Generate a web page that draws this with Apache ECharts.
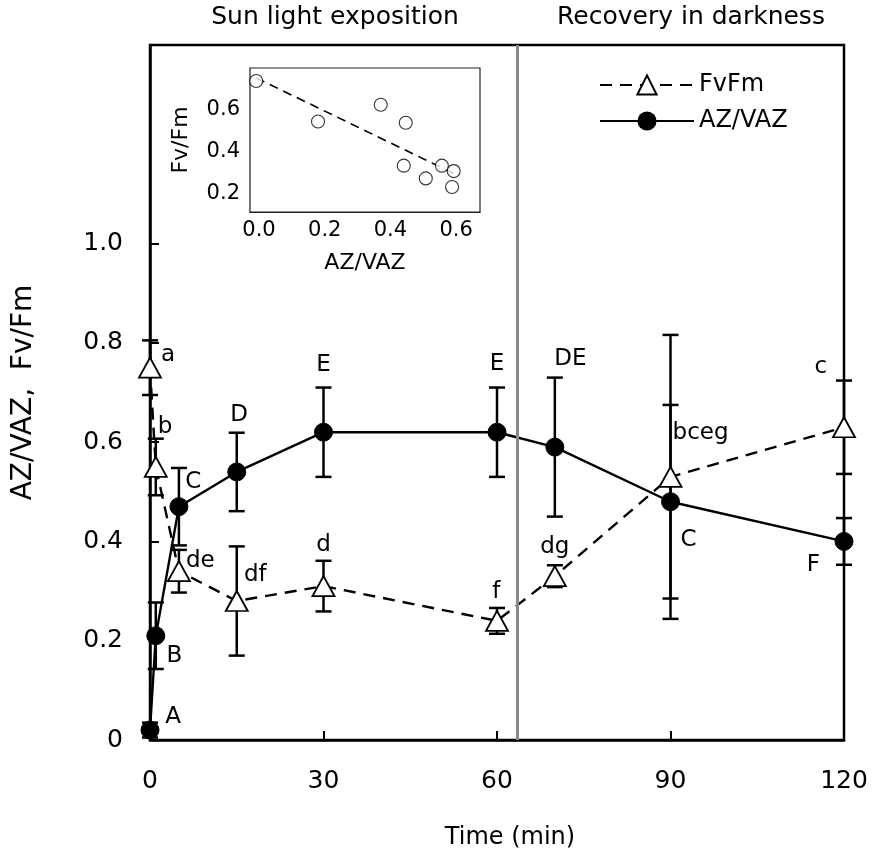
<!DOCTYPE html>
<html>
<head>
<meta charset="utf-8">
<script src="https://cdn.jsdelivr.net/npm/echarts@6/dist/echarts.min.js"></script>
<style>
  html, body { margin: 0; padding: 0; background: #fff; }
  #chart { width: 873px; height: 860px; }
</style>
</head>
<body>
<div id="chart"></div>
<script>
// main time course
const timeMin = [0, 1, 5, 15, 30, 60, 70, 90, 120];
const azVaz = [0.02, 0.21, 0.47, 0.54, 0.62, 0.62, 0.59, 0.48, 0.40];
const azVazErr = [0.015, 0.067, 0.078, 0.079, 0.09, 0.09, 0.14, 0.195, 0.047];
const fvFm = [0.75, 0.55, 0.34, 0.28, 0.31, 0.24, 0.33, 0.53, 0.63];
const fvFmErr = [0.055, 0.057, 0.043, 0.11, 0.051, 0.026, 0.022, 0.286, 0.094];

// significance letters, anchored in data units
const letterText = ['A', 'B', 'C', 'D', 'E', 'E', 'DE', 'C', 'F',
                    'a', 'b', 'de', 'df', 'd', 'f', 'dg', 'bceg', 'c'];
const letterTime = [4.0, 4.2, 7.5, 15.4, 30, 60, 72.7, 93.1, 114.7,
                    3.1, 2.6, 8.7, 18.2, 30, 59.9, 70, 95.2, 116];
const letterValue = [0.046, 0.169, 0.52, 0.655, 0.756, 0.758, 0.768, 0.403, 0.353,
                     0.776, 0.631, 0.361, 0.333, 0.393, 0.298, 0.389, 0.619, 0.752];

// light -> darkness switch
const darkStart = 63.5;

// inset scatter
const insetAz = [0.019, 0.207, 0.398, 0.474, 0.468, 0.535, 0.584, 0.620, 0.615];
const insetFv = [0.738, 0.544, 0.624, 0.538, 0.332, 0.271, 0.332, 0.306, 0.230];

const mainTicksY = [0, 0.2, 0.4, 0.6, 0.8, 1.0];
const insetTicksX = [0, 0.2, 0.4, 0.6];
const insetTicksY = [0.2, 0.4, 0.6];

const FONT = 'DejaVu Sans';

// least squares trend for the inset
const n = insetAz.length;
const mx = insetAz.reduce((a, b) => a + b, 0) / n;
const my = insetFv.reduce((a, b) => a + b, 0) / n;
let sxy = 0, sxx = 0;
for (let i = 0; i < n; i++) {
  sxy += (insetAz[i] - mx) * (insetFv[i] - my);
  sxx += (insetAz[i] - mx) * (insetAz[i] - mx);
}
const slope = sxy / sxx;
const icpt = my - slope * mx;
const xLo = Math.min(...insetAz), xHi = Math.max(...insetAz);
const trend = [[xLo, icpt + slope * xLo], [xHi, icpt + slope * xHi]];

function errData(vals, errs) {
  return timeMin.map((t, i) => [t, vals[i] - errs[i], vals[i] + errs[i]]);
}

function renderErr(params, api) {
  const lo = api.coord([api.value(0), api.value(1)]);
  const hi = api.coord([api.value(0), api.value(2)]);
  const w = 8;
  const style = { stroke: '#000', lineWidth: 2.5 };
  return {
    type: 'group',
    children: [
      { type: 'line', shape: { x1: lo[0], y1: lo[1], x2: hi[0], y2: hi[1] }, style },
      { type: 'line', shape: { x1: lo[0] - w, y1: lo[1], x2: lo[0] + w, y2: lo[1] }, style },
      { type: 'line', shape: { x1: hi[0] - w, y1: hi[1], x2: hi[0] + w, y2: hi[1] }, style }
    ]
  };
}

const chart = echarts.init(document.getElementById('chart'));

chart.setOption({
  backgroundColor: '#fff',
  animation: false,
  textStyle: { fontFamily: FONT },
  graphic: [
    { type: 'text', x: 335, y: 17, style: { text: 'Sun light exposition', font: '25px ' + FONT, fill: '#000', align: 'center', verticalAlign: 'middle' } },
    { type: 'text', x: 691, y: 17, style: { text: 'Recovery in darkness', font: '25px ' + FONT, fill: '#000', align: 'center', verticalAlign: 'middle' } }
  ],
  legend: {
    orient: 'vertical',
    left: 594,
    top: 68,
    itemWidth: 94,
    itemHeight: 24,
    itemGap: 12,
    textStyle: { fontFamily: FONT, fontSize: 24, color: '#000' },
    data: ['FvFm', 'AZ/VAZ']
  },
  grid: [
    { left: 150, top: 45, width: 694, height: 695, show: true, borderColor: '#000', borderWidth: 2.5, backgroundColor: 'transparent' },
    { left: 250, top: 68, width: 230, height: 144, show: true, borderColor: '#222', borderWidth: 1.2, backgroundColor: '#fff', z: 5 }
  ],
  xAxis: [
    {
      gridIndex: 0, type: 'value', min: 0, max: 120, interval: 30,
      name: 'Time (min)', nameLocation: 'middle', nameGap: 86,
      nameTextStyle: { fontFamily: FONT, fontSize: 24, color: '#000', padding: [0, 0, 0, 26] },
      axisLine: { lineStyle: { color: '#000', width: 2.5 } },
      axisTick: { inside: true, length: 9, lineStyle: { color: '#000', width: 2 } },
      axisLabel: { fontFamily: FONT, fontSize: 25, color: '#000', margin: 29 },
      splitLine: { show: false }
    },
    {
      gridIndex: 1, type: 'value', min: 0, max: 0.7,
      name: 'AZ/VAZ', nameLocation: 'middle', nameGap: 40,
      nameTextStyle: { fontFamily: FONT, fontSize: 22, color: '#000' },
      axisLine: { lineStyle: { color: '#222', width: 1.2 } },
      axisTick: { inside: true, length: 6, customValues: insetTicksX, lineStyle: { color: '#222' } },
      axisLabel: { fontFamily: FONT, fontSize: 21, color: '#000', margin: 8, customValues: insetTicksX,
                   formatter: v => v.toFixed(1), padding: [0, 0, 0, 18] },
      splitLine: { show: false }
    }
  ],
  yAxis: [
    {
      gridIndex: 0, type: 'value', min: 0, max: 1.4,
      name: 'AZ/VAZ,  Fv/Fm', nameLocation: 'middle', nameGap: 112,
      nameTextStyle: { fontFamily: FONT, fontSize: 28, color: '#000' },
      axisLine: { lineStyle: { color: '#000', width: 2.5 } },
      axisTick: { inside: true, length: 9, customValues: mainTicksY, lineStyle: { color: '#000', width: 2 } },
      axisLabel: { fontFamily: FONT, fontSize: 25, color: '#000', margin: 27, customValues: mainTicksY,
                   formatter: v => v === 0 ? '0' : v.toFixed(1) },
      splitLine: { show: false }
    },
    {
      gridIndex: 1, type: 'value', min: 0.11, max: 0.8,
      name: 'Fv/Fm', nameLocation: 'middle', nameGap: 58,
      nameTextStyle: { fontFamily: FONT, fontSize: 22, color: '#000' },
      axisLine: { lineStyle: { color: '#222', width: 1.2 } },
      axisTick: { inside: true, length: 6, customValues: insetTicksY, lineStyle: { color: '#222' } },
      axisLabel: { fontFamily: FONT, fontSize: 21, color: '#000', margin: 10, customValues: insetTicksY,
                   formatter: v => v.toFixed(1) },
      splitLine: { show: false }
    }
  ],
  series: [
    {
      type: 'custom', name: 'fvErr', xAxisIndex: 0, yAxisIndex: 0,
      data: errData(fvFm, fvFmErr), renderItem: renderErr, z: 2,
      encode: { x: 0, y: [1, 2] }, silent: true
    },
    {
      type: 'custom', name: 'azErr', xAxisIndex: 0, yAxisIndex: 0,
      data: errData(azVaz, azVazErr), renderItem: renderErr, z: 2,
      encode: { x: 0, y: [1, 2] }, silent: true
    },
    {
      type: 'line', name: 'FvFm', xAxisIndex: 0, yAxisIndex: 0,
      data: timeMin.map((t, i) => [t, fvFm[i]]),
      symbol: 'triangle', symbolSize: [22, 20],
      itemStyle: { color: '#fff', borderColor: '#000', borderWidth: 1.8 },
      lineStyle: { color: '#000', width: 2.4, type: [12, 8] },
      z: 3,
      markLine: {
        silent: true, symbol: 'none', label: { show: false },
        lineStyle: { color: '#8a8a8a', width: 3, type: 'solid' },
        data: [{ xAxis: darkStart }]
      }
    },
    {
      type: 'line', name: 'AZ/VAZ', xAxisIndex: 0, yAxisIndex: 0,
      data: timeMin.map((t, i) => [t, azVaz[i]]),
      symbol: 'circle', symbolSize: 18,
      itemStyle: { color: '#000', borderColor: '#000' },
      lineStyle: { color: '#000', width: 2.4 },
      z: 4
    },
    {
      type: 'custom', name: 'letters', xAxisIndex: 0, yAxisIndex: 0,
      data: letterText.map((s, i) => [letterTime[i], letterValue[i], s]),
      z: 6, silent: true,
      renderItem: (params, api) => {
        const p = api.coord([api.value(0), api.value(1)]);
        return {
          type: 'text', x: p[0], y: p[1],
          style: { text: letterText[params.dataIndex], font: '23px ' + FONT, fill: '#000', align: 'center', verticalAlign: 'middle' }
        };
      }
    },
    {
      type: 'line', name: 'trend', xAxisIndex: 1, yAxisIndex: 1,
      data: trend, showSymbol: false, symbol: 'none',
      lineStyle: { color: '#000', width: 1.6, type: [9, 6] }, z: 6
    },
    {
      type: 'scatter', name: 'inset', xAxisIndex: 1, yAxisIndex: 1,
      data: insetAz.map((x, i) => [x, insetFv[i]]),
      symbol: 'circle', symbolSize: 13,
      itemStyle: { color: '#fff', borderColor: '#000', borderWidth: 1.1 }, z: 7
    }
  ]
});
</script>
</body>
</html>
